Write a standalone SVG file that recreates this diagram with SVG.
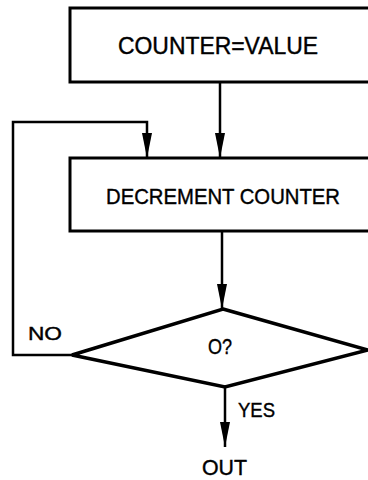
<svg xmlns="http://www.w3.org/2000/svg" width="368" height="480" viewBox="0 0 368 480">
  <defs>
    <marker id="arrow" viewBox="0 -5 25 10" refX="25" refY="0" markerWidth="25" markerHeight="10" markerUnits="userSpaceOnUse" orient="auto">
      <path d="M0,-5 L25,0 L0,5 z" fill="#000"/>
    </marker>
  </defs>
  <style>
    .box { fill: #fff; stroke: #000; stroke-width: 3; }
    .dia { fill: #fff; stroke: #000; stroke-width: 3.5; stroke-linejoin: miter; }
    .conn { fill: none; stroke: #000; stroke-width: 2.5; }
    .lbl { font-family: "Liberation Sans", Arial, sans-serif; font-size: 23px; fill: #000; stroke: #000; stroke-width: 0.4; }
  </style>
  <rect width="368" height="480" fill="#fff"/>
  <g id="connectors">
    <path class="conn" d="M220,82 L220,158" marker-end="url(#arrow)"/>
    <path class="conn" d="M72,355 L13,355 L13,122 L147,122 L147,158" marker-end="url(#arrow)"/>
    <path class="conn" d="M222,231 L222,309" marker-end="url(#arrow)"/>
    <path class="conn" d="M225,387 L225,447" marker-end="url(#arrow)"/>
  </g>
  <g id="node-init">
    <rect class="box" x="70" y="8" width="340" height="74"/>
    <text class="lbl" x="118" y="54" textLength="200" lengthAdjust="spacingAndGlyphs">COUNTER=VALUE</text>
  </g>
  <g id="node-decrement">
    <rect class="box" x="70" y="158" width="340" height="73"/>
    <text class="lbl" x="106" y="204" textLength="234" lengthAdjust="spacingAndGlyphs" style="font-size:22px">DECREMENT COUNTER</text>
  </g>
  <g id="node-decision">
    <polygon class="dia" points="223,309 368,350 225,387 72,355"/>
    <text class="lbl" x="208" y="354" textLength="24" lengthAdjust="spacingAndGlyphs" style="font-size:22px">O?</text>
  </g>
  <g id="label-no">
    <text class="lbl" x="28" y="340" textLength="34" lengthAdjust="spacingAndGlyphs" style="font-size:19px">NO</text>
  </g>
  <g id="label-yes">
    <text class="lbl" x="238" y="417" textLength="37" lengthAdjust="spacingAndGlyphs" style="font-size:21px">YES</text>
  </g>
  <g id="node-out">
    <text class="lbl" x="202" y="475" textLength="45" lengthAdjust="spacingAndGlyphs" style="font-size:22px">OUT</text>
  </g>
</svg>
